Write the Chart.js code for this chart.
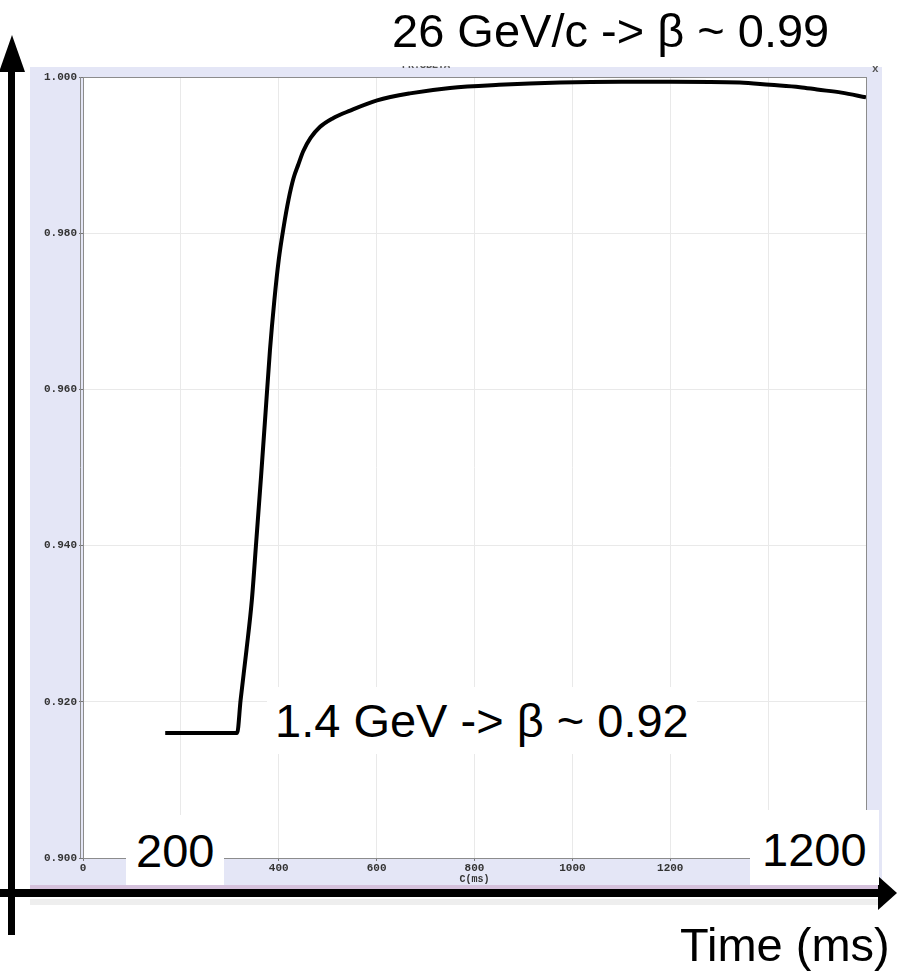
<!DOCTYPE html>
<html>
<head>
<meta charset="utf-8">
<script src="https://cdn.jsdelivr.net/npm/chart.js@4.4.1/dist/chart.umd.min.js"></script>
<style>
  html, body { margin: 0; padding: 0; background: #fff; }
  #wrap { position: relative; width: 897px; height: 975px; overflow: hidden; }
  #chart { position: absolute; left: 0; top: 0; }
  .note {
    position: absolute;
    font-family: "Liberation Sans", Arial, sans-serif;
    font-size: 47px;
    line-height: 47px;
    color: #000;
    white-space: nowrap;
  }
  .boxed { background: #fff; }
  .tiny { position: absolute; overflow: hidden; font-family: "Liberation Mono", monospace; font-weight: bold; color: #555; }
</style>
</head>
<body>
<div id="wrap">
  <canvas id="chart" width="897" height="975"></canvas>
  <div class="tiny" style="left:402px; top:66px; width:60px; height:5px; font-size:10px;"><span style="position:relative; top:-6px;">PR.SBETA</span></div>
  <div class="tiny" style="left:872px; top:63px; font-size:11px;">x</div>
  <div class="note" style="left:392px; top:7px;">26 GeV/c -&gt; β ~ 0.99</div>
  <div class="note boxed" style="left:267px; top:687px; padding:10px 8px;">1.4 GeV -&gt; β ~ 0.92</div>
  <div class="note boxed" style="left:126px; top:815px; padding:12px 10px 11px 10px;">200</div>
  <div class="note boxed" style="left:750px; top:810px; padding:16px 12px 12px 12px;">1200</div>
  <div class="note" style="left:680px; top:921px;">Time (ms)</div>
</div>
<script>
// beta vs time
const timeMs = [168, 200, 250, 300, 315, 322, 334, 345, 354, 364, 373, 382, 391, 400, 410, 420, 430, 440, 450, 465, 484, 510, 546, 601, 668, 750, 850, 975, 1100, 1200, 1342, 1404, 1465, 1500, 1550, 1600];
const beta = [0.9160, 0.9160, 0.9160, 0.9160, 0.9160, 0.9202, 0.9266, 0.9330, 0.9405, 0.9490, 0.9570, 0.9650, 0.9714, 0.9766, 0.9808, 0.9843, 0.9870, 0.9888, 0.9905, 0.9922, 0.9936, 0.9947, 0.9957, 0.9970, 0.9979, 0.9986, 0.9990, 0.9993, 0.9994, 0.9994, 0.9993, 0.9990, 0.9987, 0.9984, 0.9980, 0.9974];

const xTicks = [0, 200, 400, 600, 800, 1000, 1200, 1400, 1600];
const yTicks = [0.900, 0.920, 0.940, 0.960, 0.980, 1.000];

const tickFont = { family: 'Liberation Mono, monospace', size: 11, weight: 'bold' };

const frame = {
  id: 'frame',
  beforeDraw(chart) {
    const { ctx, chartArea: a } = chart;
    ctx.save();
    // lavender panel
    ctx.fillStyle = '#e4e6f6';
    ctx.fillRect(30, 67, 852, 818);
    ctx.fillStyle = '#d5c1dc';
    ctx.fillRect(30, 885, 852, 4);
    ctx.fillStyle = '#eeeeee';
    ctx.fillRect(30, 899, 852, 6);
    ctx.fillStyle = '#ffffff';
    ctx.fillRect(a.left, a.top, a.right - a.left, a.bottom - a.top);
    ctx.restore();
  },
  afterDatasetsDraw(chart) {
    const { ctx, chartArea: a } = chart;
    ctx.save();
    ctx.strokeStyle = '#8c8c8c';
    ctx.lineWidth = 1;
    ctx.strokeRect(a.left + 0.5, a.top + 0.5, a.right - a.left, a.bottom - a.top);
    ctx.beginPath();
    ctx.moveTo(a.left - 2.5, a.top);
    ctx.lineTo(a.left - 2.5, a.bottom);
    ctx.stroke();
    ctx.restore();
  },
  afterDraw(chart) {
    const { ctx } = chart;
    ctx.save();
    ctx.fillStyle = '#000';
    // vertical arrow
    ctx.fillRect(8, 70, 7, 865);
    ctx.beginPath();
    ctx.moveTo(12, 35);
    ctx.lineTo(25, 72);
    ctx.lineTo(-1, 72);
    ctx.closePath();
    ctx.fill();
    // horizontal arrow
    ctx.fillRect(0, 889, 882, 8);
    ctx.beginPath();
    ctx.moveTo(897, 893);
    ctx.lineTo(878, 910);
    ctx.lineTo(878, 876);
    ctx.closePath();
    ctx.fill();
    ctx.restore();
  }
};

new Chart(document.getElementById('chart'), {
  type: 'line',
  data: {
    datasets: [{
      data: timeMs.map((t, i) => ({ x: t, y: beta[i] })),
      borderColor: '#000',
      borderWidth: 4,
      pointRadius: 0,
      cubicInterpolationMode: 'monotone',
      fill: false
    }]
  },
  options: {
    responsive: false,
    animation: false,
    layout: { padding: { left: 0, right: 31, top: 77, bottom: 90 } },
    plugins: { legend: { display: false }, tooltip: { enabled: false } },
    scales: {
      x: {
        type: 'linear',
        min: 0,
        max: 1600,
        afterBuildTicks: s => { s.ticks = xTicks.map(v => ({ value: v })); },
        ticks: { font: tickFont, color: '#333', padding: 1, maxRotation: 0, autoSkip: false, callback: v => String(v) },
        grid: { color: '#e9e9e9', tickColor: '#777', tickLength: 3 },
        border: { display: false },
        title: { display: true, text: 'C(ms)', font: { family: 'Liberation Mono, monospace', size: 10, weight: 'bold' }, color: '#333', padding: 0 },
        afterFit: s => { s.height = 27; }
      },
      y: {
        min: 0.9,
        max: 1.0,
        afterBuildTicks: s => { s.ticks = yTicks.map(v => ({ value: v })); },
        ticks: { font: tickFont, color: '#333', padding: 2, callback: v => v.toFixed(3) },
        grid: { color: '#e9e9e9', tickColor: '#777', tickLength: 4 },
        border: { display: false },
        afterFit: s => { s.width = 83; }
      }
    }
  },
  plugins: [frame]
});
</script>
</body>
</html>
